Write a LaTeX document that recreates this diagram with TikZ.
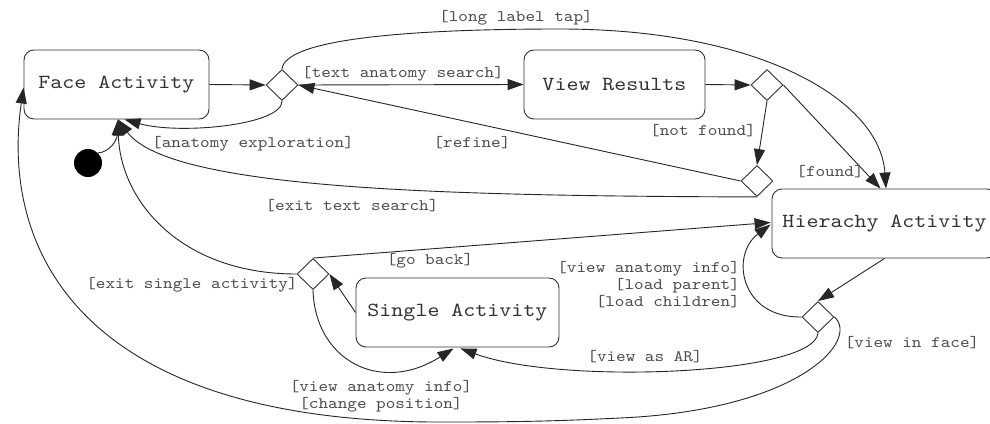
\documentclass[tikz,border=0pt]{standalone}
\usepackage{fontspec}
\setmonofont{lmmono10-regular}[Extension=.otf, FakeStretch=1.143]
\usetikzlibrary{arrows.meta,shapes.geometric,calc}
\begin{document}
\begin{tikzpicture}[x=1pt,y=-1pt,
  state/.style={draw=black!80, line width=0.9pt, rounded corners=10pt, minimum height=69pt, inner sep=0pt, text=black!80, font=\ttfamily\fontsize{20}{22}\selectfont},
  choice/.style={draw=black!80, line width=0.9pt, diamond, minimum width=32pt, minimum height=31pt, inner sep=0pt},
  lbl/.style={font=\ttfamily\fontsize{16}{17}\selectfont, text=black!70, inner sep=0pt},
  arr/.style={draw=black!85, line width=0.9pt, -{Triangle[length=16pt,width=11pt]}},
  ln/.style={draw=black!85, line width=0.9pt}
]
\clip (0,0) rectangle (990,423);
\fill[white] (0,0) rectangle (990,423);

% states
\node[state, minimum width=185pt] (face) at (116.5,84.5) {Face Activity};
\node[state, minimum width=181pt] (vr) at (614.5,84.5) {View Results};
\node[state, minimum width=225pt] (hier) at (884.5,223.5) {Hierachy Activity};
\node[state, minimum width=203pt] (single) at (457.5,312.5) {Single Activity};

% choices
\node[choice] (d1) at (282,85) {};
\node[choice] (d2) at (767,85) {};
\node[choice] (d3) at (757,181) {};
\node[choice] (d4) at (313,274) {};
\node[choice] (d5) at (818,317) {};

% initial
\node[circle, fill=black, minimum size=28pt, inner sep=0pt] (init) at (88,163) {};

% connectors
\draw[arr] (init.north east) .. controls (110,152) and (117,140) .. ($(face.south)+(1.5,0)$);
\draw[arr] (face.east) -- (d1.west);
\draw[arr] (d1.east) -- (vr.west);
\draw[arr] (d1.south) .. controls (283,125) and (180,135) .. ($(face.south)+(8,0)$);
\draw[arr] (d1.north) .. controls (285,40) and (400,29) .. (560,29) .. controls (760,29) and (880,100) .. ($(hier.north)+(1.5,0)$);
\draw[arr] (vr.east) -- (d2.west);
\draw[arr] (d2.south) -- (d3.north);
\draw[arr] (d2.east) -- ($(hier.north)+(-4,0)$);
\draw[arr] (d3.west) -- (d1.east);
\draw[arr] (d3.south) .. controls (450,196) and (170,190) .. ($(face.south)+(1.5,0)$);
\draw[arr] (d4.west) .. controls (180,274) and (120,200) .. ($(face.south)+(1.5,0)$);
\draw[arr] (d4.north) -- ($(hier.west)+(-1,-1)$);
\draw[arr] (single.west) -- (d4.east);
\draw[arr] (d4.south) .. controls (315,360) and (380,395) .. ($(single.south)+(-4,1)$);
\draw[arr] (d5.south) .. controls (815,375) and (560,385) .. ($(single.south)+(3,1)$);
\draw[arr] (d5.east) .. controls (860,340) and (800,410) .. (620,418) .. controls (560,421) and (520,422) .. (450,422) .. controls (80,425) and (0,250) .. ($(face.west)+(0,3)$);
\draw[arr] (hier.south) -- (d5.north);
\draw[arr] (d5.west) .. controls (740,318) and (730,255) .. ($(hier.west)+(-1,1)$);

% labels
\node[lbl] (l1) at (516,18) {[long label tap]};
\node[lbl] (l2) at (403,74) {[text anatomy search]};
\node[lbl] (l3) at (253,144) {[anatomy exploration]};
\node[lbl] (l4) at (472,143) {[refine]};
\node[lbl] (l5) at (703,131) {[not found]};
\node[lbl] (l6) at (830,172) {[found]};
\node[lbl] (l7) at (352,206) {[exit text search]};
\node[lbl] (l8) at (192,285) {[exit single activity]};
\node[lbl] (l9) at (430,261) {[go back]};
\node[lbl, align=right, anchor=east] (l10) at (740,285) {[view anatomy info]\\{}[load parent]\\{}[load children]};
\node[lbl] (l11) at (645,357) {[view as AR]};
\node[lbl] (l12) at (912,343) {[view in face]};
\node[lbl, align=center] (l13) at (381,396) {[view anatomy info]\\{}[change position]};
\end{tikzpicture}
\end{document}
